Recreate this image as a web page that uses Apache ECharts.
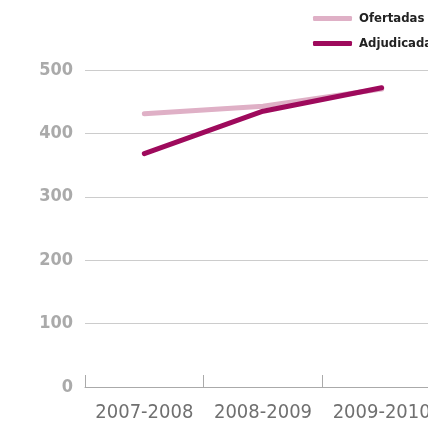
<!DOCTYPE html>
<html>
<head>
<meta charset="utf-8">
<style>
	html, body { margin: 0; padding: 0; overflow: hidden; background: #fff; }
	#chart { width: 441px; height: 424px; }
</style>
<script src="https://cdn.jsdelivr.net/npm/echarts@6/dist/echarts.min.js"></script>
</head>
<body>
<div id="chart"></div>
<script>
	const categories = ['2007-2008', '2008-2009', '2009-2010']
	const ofertadas = [431, 443, 470]
	const adjudicadas = [368, 435, 472]
	const yTicks = [0, 100, 200, 300, 400, 500]

	const lightColor = '#dfb0c6'
	const darkColor = '#9e0a5c'
	const font = 'DejaVu Sans Condensed'

	let chart = echarts.init(document.getElementById('chart'))
	const option = {
		animation: false,
		legend: {
			orient: 'vertical',
			left: 308,
			top: 7,
			itemWidth: 39,
			itemHeight: 5,
			itemGap: 12,
			icon: 'roundRect',
			textStyle: {
				fontFamily: font,
				fontWeight: 'bold',
				fontSize: 13,
				color: '#222',
				padding: [0, 0, 0, 2]
			},
			data: ['Ofertadas', 'Adjudicadas']
		},
		grid: {
			left: 85,
			right: 0,
			top: 70,
			bottom: 37,
			containLabel: false
		},
		xAxis: {
			type: 'category',
			data: categories,
			boundaryGap: true,
			axisLine: { lineStyle: { color: '#aaa', width: 1 } },
			axisTick: { show: true, interval: 0, inside: true, length: 12, lineStyle: { color: '#aaa', width: 1 } },
			axisLabel: { interval: 0, fontFamily: font, fontSize: 20, color: '#707070', margin: 16 },
			splitLine: { show: false }
		},
		yAxis: {
			type: 'value',
			min: yTicks[0],
			max: yTicks[yTicks.length - 1],
			interval: 100,
			axisLine: { show: false },
			axisTick: { show: false },
			axisLabel: { fontFamily: font, fontWeight: 'bold', fontSize: 18, color: '#aaa', margin: 12 },
			splitLine: { lineStyle: { color: '#ccc', width: 1 } }
		},
		series: [
			{
				name: 'Ofertadas',
				type: 'line',
				data: ofertadas,
				symbol: 'none',
				color: lightColor,
				lineStyle: { width: 5, color: lightColor, cap: 'round' }
			},
			{
				name: 'Adjudicadas',
				type: 'line',
				data: adjudicadas,
				symbol: 'none',
				color: darkColor,
				lineStyle: { width: 5, color: darkColor, cap: 'round' }
			}
		]
	}
	chart.setOption(option)
</script>
</body>
</html>
